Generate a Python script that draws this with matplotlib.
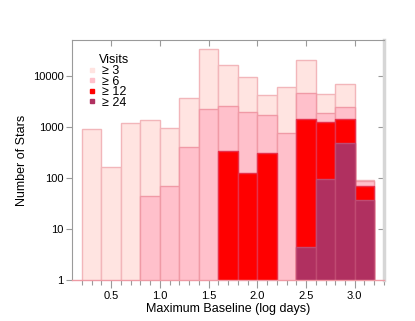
import numpy as np
import matplotlib
matplotlib.use("Agg")
import matplotlib.pyplot as plt
from matplotlib.lines import Line2D

plt.rcParams['font.family'] = ['Liberation Sans', 'DejaVu Sans']

# Data
bin_left = [0.2, 0.4, 0.6, 0.8, 1.0, 1.2, 1.4, 1.6, 1.8, 2.0, 2.2, 2.4, 2.6, 2.8, 3.0]
bin_width = 0.2
ge3 = [900, 160, 1160, 1370, 944, 3650, 33400, 16200, 9430, 4180, 6000, 20300, 4370, 6970, 90]
ge6 = [0, 0, 0, 44, 70, 405, 2220, 2550, 1940, 1695, 752, 4640, 1855, 2435, 85]
ge12 = [0, 0, 0, 0, 0, 0, 0, 334, 122, 309, 0, 1416, 1237, 1416, 70]
ge24 = [0, 0, 0, 0, 0, 0, 0, 0, 0, 0, 0, 4, 94, 479, 37]
labels = ['\u2265 3', '\u2265 6', '\u2265 12', '\u2265 24']
fills = ['#FFE4E1', '#FFC0CB', '#FF0000', '#B03060']
edges = ['#F2B6BA', '#F09AA6', '#E8304A', '#C04A72']

fig = plt.figure(figsize=(4.15, 3.21), dpi=100)
ax = fig.add_axes([0.1735, 0.1277, 0.7518, 0.7477])

for vals, fc, ec in zip([ge3, ge6, ge12, ge24], fills, edges):
    v = np.array(vals, dtype=float)
    m = v > 0
    ax.bar(np.array(bin_left)[m], v[m], width=bin_width, align='edge', bottom=0.5,
           color=fc, edgecolor=ec, linewidth=1.0, zorder=2)

ax.set_yscale('log')
ax.set_xlim(0.1, 3.3)
ax.set_ylim(1, 50000)
ax.set_yticks([1, 10, 100, 1000, 10000])
ax.set_yticklabels(['1', '10', '100', '1000', '10000'])
ax.yaxis.set_minor_locator(matplotlib.ticker.NullLocator())
ax.set_xticks([0.5, 1.0, 1.5, 2.0, 2.5, 3.0])
ax.set_xticklabels(['0.5', '1.0', '1.5', '2.0', '2.5', '3.0'])
ax.set_xticks(np.arange(0.2, 3.31, 0.1), minor=True)

gray = '#9A9A9A'
ax.tick_params(axis='both', which='major', labelsize=8, color=gray, width=0.8, pad=2)
ax.tick_params(axis='x', which='major', direction='out', length=6, top=False)
ax.tick_params(axis='x', which='minor', direction='out', length=3.5, color=gray, width=0.8, top=False)
ax.tick_params(axis='y', which='major', direction='out', length=4, right=False)

for s in ['left', 'top']:
    ax.spines[s].set_color(gray)
    ax.spines[s].set_linewidth(0.8)
ax.spines['bottom'].set_color('#EE9AA4')
ax.spines['bottom'].set_linewidth(1.0)
ax.spines['bottom'].set_zorder(3)
ax.spines['right'].set_color('#D6D6D6')
ax.spines['right'].set_linewidth(2.5)

secx = ax.secondary_xaxis('top')
secx.set_xticks([0.5, 1.0, 1.5, 2.0, 2.5, 3.0])
secx.tick_params(direction='in', length=4, color=gray, width=0.8, labeltop=False)
secx.spines['top'].set_visible(False)

secy = ax.secondary_yaxis('right')
secy.set_yticks([10, 100, 1000, 10000])
secy.yaxis.set_minor_locator(matplotlib.ticker.NullLocator())
secy.tick_params(direction='in', length=4, color=gray, width=0.8, labelright=False, pad=3)
secy.spines['right'].set_visible(False)

ax.set_xlabel('Maximum Baseline (log days)', fontsize=9, labelpad=1)
ax.set_ylabel('Number of Stars', fontsize=9, labelpad=3.5)

handles = [Line2D([], [], marker='s', linestyle='none', markersize=3.5,
                  markerfacecolor=c, markeredgecolor=c) for c in fills]
leg = ax.legend(handles, labels, loc='upper left', bbox_to_anchor=(0.053, 0.895),
                frameon=False, fontsize=9, handlelength=0.6, handletextpad=0.5,
                labelspacing=-0.12, borderpad=0, borderaxespad=0)
ax.text(0.0865, 0.903, 'Visits', transform=ax.transAxes, fontsize=9, ha='left', va='baseline')

fig.savefig('out.png', dpi=100)
